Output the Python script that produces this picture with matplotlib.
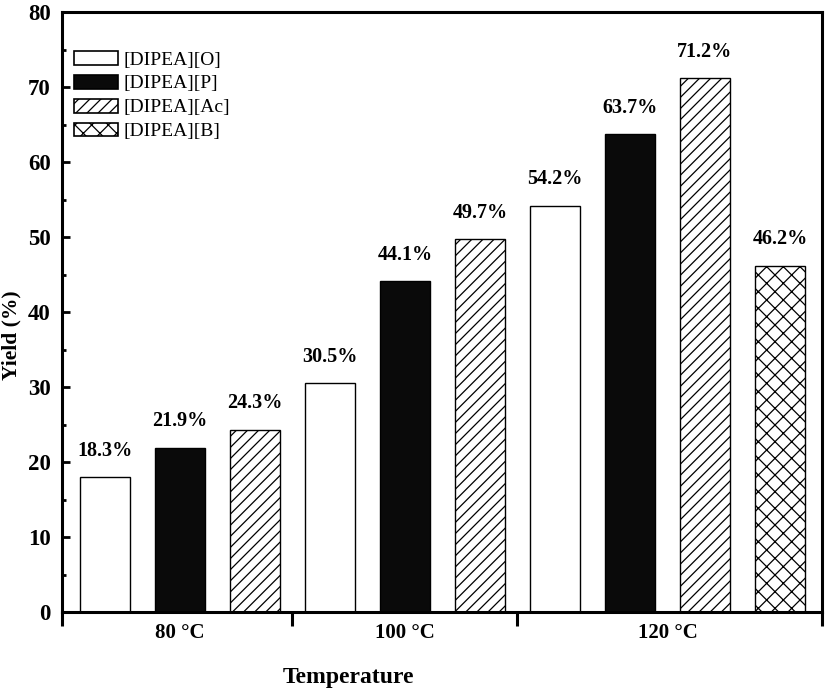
import matplotlib
matplotlib.use("Agg")
import matplotlib.pyplot as plt
from matplotlib.patches import Patch

plt.rcParams['font.family'] = ['Liberation Serif', 'DejaVu Serif']
plt.rcParams['hatch.linewidth'] = 0.9

# ---- data ----
series = ['[DIPEA][O]', '[DIPEA][P]', '[DIPEA][Ac]', '[DIPEA][B]']
groups = ['80 °C', '100 °C', '120 °C']
bar_series = ['[DIPEA][O]', '[DIPEA][P]', '[DIPEA][Ac]',
              '[DIPEA][O]', '[DIPEA][P]', '[DIPEA][Ac]',
              '[DIPEA][O]', '[DIPEA][P]', '[DIPEA][Ac]', '[DIPEA][B]']
bar_group = [0, 0, 0, 1, 1, 1, 2, 2, 2, 2]
yields = [18.0, 21.9, 24.3, 30.5, 44.1, 49.7, 54.2, 63.7, 71.2, 46.2]
value_labels = ['18.3%', '21.9%', '24.3%', '30.5%', '44.1%', '49.7%',
                '54.2%', '63.7%', '71.2%', '46.2%']

styles = {
    '[DIPEA][O]': dict(facecolor='white', hatch=None),
    '[DIPEA][P]': dict(facecolor='#0a0a0a', hatch=None),
    '[DIPEA][Ac]': dict(facecolor='white', hatch='///'),
    '[DIPEA][B]': dict(facecolor='white', hatch='xx'),
}

W, H = 826, 690
fig = plt.figure(figsize=(W/100, H/100), dpi=100)
ax = fig.add_axes([62/W, 1 - 612/H, (822-62)/W, (612-12)/H])

x = list(range(len(yields)))
for xi, h, s in zip(x, yields, bar_series):
    st = styles[s]
    ax.bar(xi, h, width=0.667, facecolor=st['facecolor'], hatch=st['hatch'],
           edgecolor='black', linewidth=1.0, zorder=2)

for xi, h, lab in zip(x, yields, value_labels):
    ax.text(xi, h + 3.5, lab, ha='center', va='center', fontsize=14.5,
            fontweight='bold')

xmin, xmax = -0.573, 9.56
ax.set_xlim(xmin, xmax)
ax.set_ylim(0, 80)

# group separator ticks
ax.set_xticks([xmin, 2.5, 5.5, xmax])
ax.set_xticklabels([])
ax.tick_params(axis='x', which='major', direction='out', length=10, width=2.2)
# group labels as minor ticks
centers = []
for g in range(len(groups)):
    idx = [i for i, bg in enumerate(bar_group) if bg == g]
    centers.append(sum(idx) / len(idx))
ax.set_xticks(centers, minor=True)
ax.set_xticklabels(groups, minor=True, fontsize=15, fontweight='bold')
ax.tick_params(axis='x', which='minor', length=0, pad=8)

ax.set_yticks(range(0, 81, 10))
ax.set_yticks(range(5, 80, 10), minor=True)
ax.tick_params(axis='y', which='major', direction='in', length=6, width=2.0,
               labelsize=16.5, pad=8)
ax.tick_params(axis='y', which='minor', direction='in', length=3, width=2.0)
for t in ax.get_yticklabels():
    t.set_fontweight('bold')

for sp in ax.spines.values():
    sp.set_linewidth(2.2)

fig.text(11/W, 1 - 335/H, 'Yield (%)', rotation=90, ha='center', va='center',
         fontsize=15.5, fontweight='bold')
fig.text(348/W, 1 - 678/H, 'Temperature', ha='center', va='center',
         fontsize=17, fontweight='bold')

handles = [Patch(facecolor=styles[s]['facecolor'], hatch=styles[s]['hatch'],
                 edgecolor='black', linewidth=1.2, label=s) for s in series]
ax.legend(handles=handles, loc='upper left',
          bbox_to_anchor=((66-62)/760, (612-43)/600),
          frameon=False, fontsize=14, handlelength=2.27, handleheight=0.72,
          labelspacing=0.32, handletextpad=0.3, borderaxespad=0.0)

fig.savefig('out.png', dpi=100)
